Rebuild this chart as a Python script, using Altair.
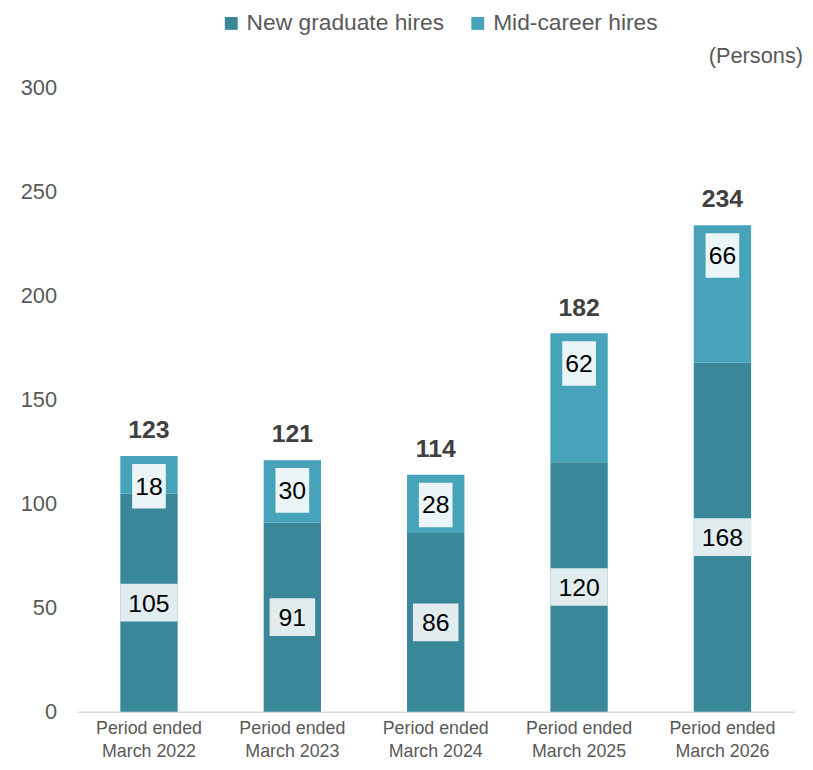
import altair as alt
import pandas as pd

periods = ["Period ended\nMarch 2022", "Period ended\nMarch 2023", "Period ended\nMarch 2024",
           "Period ended\nMarch 2025", "Period ended\nMarch 2026"]
new_graduate = [105, 91, 86, 120, 168]
mid_career = [18, 30, 28, 62, 66]
totals = [123, 121, 114, 182, 234]
series_names = ["New graduate hires", "Mid-career hires"]
series_colors = ["#3A8799", "#47A3B9"]
y_ticks = [0, 50, 100, 150, 200, 250, 300]

rows = []
for p, ng, mc in zip(periods, new_graduate, mid_career):
    rows.append({"period": p, "series": series_names[0], "lo": 0, "hi": ng, "value": ng})
    rows.append({"period": p, "series": series_names[1], "lo": ng, "hi": ng + mc, "value": mc})
bars_df = pd.DataFrame(rows)

lab_df = pd.DataFrame({"period": periods, "ng": new_graduate, "mc": mid_career, "total": totals})

FONT = "Liberation Sans"
W, H = 724, 630

x_enc = alt.X("period:N", sort=periods, title=None,
              scale=alt.Scale(paddingInner=0.6, paddingOuter=0.3),
              axis=alt.Axis(labelExpr="split(datum.label, '\\n')", labelAngle=0,
                            labelFont=FONT, labelFontSize=18,
                            labelColor="#595959", labelLineHeight=23, labelPadding=8,
                            ticks=False, domainColor="#D9D9D9", domainWidth=1.5))
y_scale = alt.Scale(domain=[0, 300], nice=False)

bars = alt.Chart(bars_df).mark_bar().encode(
    x=x_enc,
    y=alt.Y("lo:Q", scale=y_scale, title=None,
            axis=alt.Axis(values=y_ticks, grid=False, ticks=False, domain=False,
                          labelFont=FONT, labelFontSize=22, labelColor="#595959",
                          labelPadding=21)),
    y2="hi:Q",
    color=alt.Color("series:N", scale=alt.Scale(domain=series_names, range=series_colors),
                    legend=alt.Legend(title=None, orient="none", direction="horizontal",
                                      legendX=144, legendY=-77,
                                      symbolType="square", symbolSize=170,
                                      symbolStrokeWidth=0, labelFont=FONT,
                                      labelFontSize=23, labelColor="#595959",
                                      labelLimit=0, labelOffset=4, columnPadding=22)),
)

base = alt.Chart(lab_df).transform_calculate(
    half="datum.ng / 2",
    ngw="length(toString(datum.ng)) > 2 ? 58 : 46",
)

ng_box = base.mark_bar(color="#E1ECEF", yOffset=-19, y2Offset=19).encode(
    x=alt.X("period:N", sort=periods),
    y=alt.Y("half:Q", scale=y_scale),
    y2="half:Q",
    size=alt.Size("ngw:Q", scale=None, legend=None),
)
ng_text = base.mark_text(font=FONT, fontSize=25, color="#000000", baseline="middle", dy=1).encode(
    x=alt.X("period:N", sort=periods),
    y=alt.Y("half:Q", scale=y_scale),
    text="ng:Q",
)
mc_box = base.mark_bar(color="#EBF4F6", yOffset=8, y2Offset=53).encode(
    x=alt.X("period:N", sort=periods),
    y=alt.Y("total:Q", scale=y_scale),
    y2="total:Q",
    size=alt.value(34),
)
mc_text = base.mark_text(font=FONT, fontSize=25, color="#000000", baseline="middle", dy=31).encode(
    x=alt.X("period:N", sort=periods),
    y=alt.Y("total:Q", scale=y_scale),
    text="mc:Q",
)
tot_text = base.mark_text(font=FONT, fontSize=25, fontWeight="bold", color="#404040",
                          baseline="middle", dy=-26).encode(
    x=alt.X("period:N", sort=periods),
    y=alt.Y("total:Q", scale=y_scale),
    text="total:Q",
)
unit = alt.Chart(pd.DataFrame({"t": ["(Persons)"]})).mark_text(
    font=FONT, fontSize=22, color="#595959", align="right", baseline="middle"
).encode(x=alt.value(733), y=alt.value(-32), text="t:N")

chart = alt.layer(bars, ng_box, ng_text, mc_box, mc_text, tot_text, unit).properties(
    width=W, height=H,
    background="white",
    autosize=alt.AutoSizeParams(type="none"),
    padding={"left": 70, "top": 77, "right": 11, "bottom": 53},
).configure_view(strokeWidth=0, stroke=None)

chart.save("out.html", embed_options={"renderer": "svg", "actions": False})
